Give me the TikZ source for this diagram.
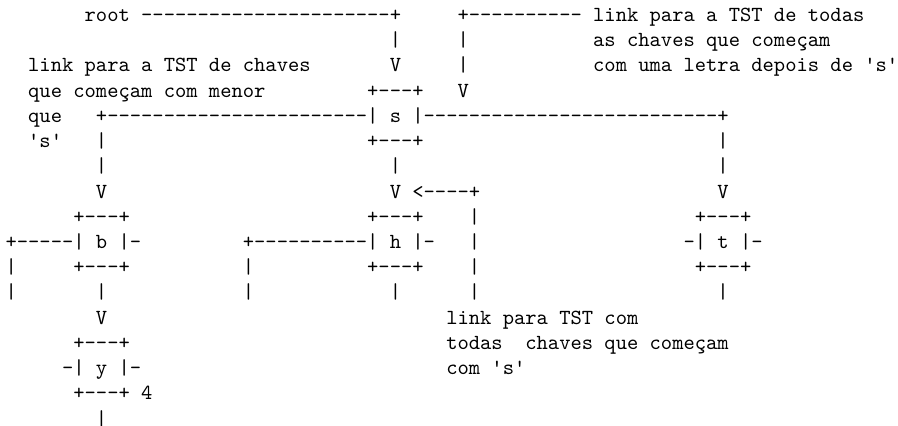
\documentclass[tikz,border=0pt]{standalone}
\usepackage{fontspec}

\begin{document}
\begin{tikzpicture}[x=5.25pt,y=-11.717pt,
    ascii/.style={anchor=base west,inner sep=0pt,font=\ttfamily}]
  \useasboundingbox (-2.39pt,9.99pt) rectangle (414.83pt,-187.93pt);

  % row/column/text, one row of the drawing per line
  \foreach \r/\c/\txt in {
    0/7/root ----------------------+, 0/40/+---------- link para a TST de todas,
    1/34/|, 1/40/|, 1/52/as chaves que começam,
    2/2/link para a TST de chaves, 2/34/V, 2/40/|, 2/52/com uma letra depois de 's',
    3/2/que começam com menor, 3/32/+---+, 3/40/V,
    4/2/que, 4/8/+-----------------------| s |--------------------------+,
    5/2/'s', 5/8/|, 5/32/+---+, 5/63/|,
    6/8/|, 6/34/|, 6/63/|,
    7/8/V, 7/34/V <----+, 7/63/V,
    8/6/+---+, 8/32/+---+, 8/41/|, 8/61/+---+,
    9/0/+-----| b |-, 9/21/+----------| h |-, 9/41/|, 9/60/-| t |-,
    10/0/|, 10/6/+---+, 10/21/|, 10/32/+---+, 10/41/|, 10/61/+---+,
    11/0/|, 11/8/|, 11/21/|, 11/34/|, 11/41/|, 11/63/|,
    12/8/V, 12/39/link para TST com,
    13/6/+---+, 13/39/todas, 13/46/chaves que começam,
    14/5/-| y |-, 14/39/com 's',
    15/6/+---+ 4,
    16/8/|} {
    \node[ascii] (n-\r-\c) at (\c,\r) {\txt};
  }
\end{tikzpicture}
\end{document}
